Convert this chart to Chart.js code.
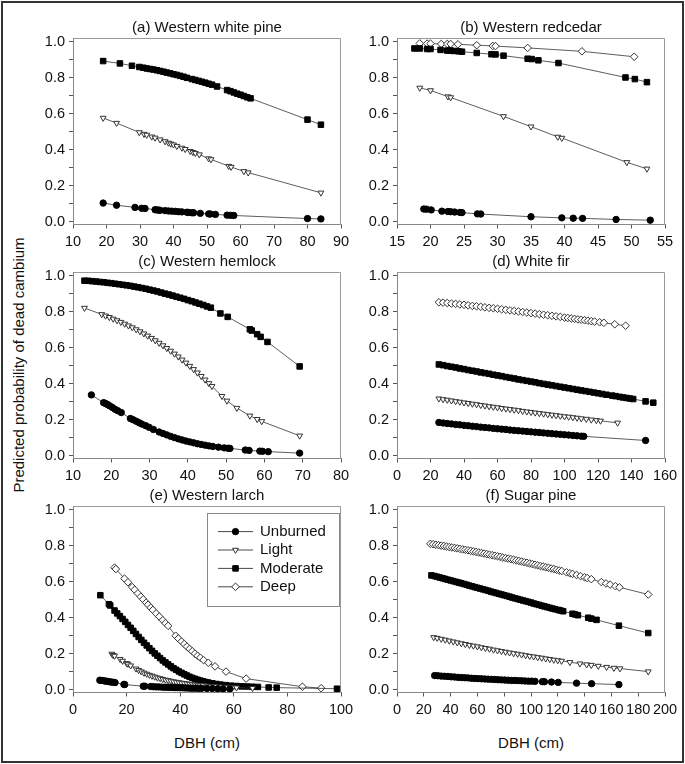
<!DOCTYPE html>
<html><head><meta charset="utf-8">
<script src="https://cdn.jsdelivr.net/npm/chart.js@4/dist/chart.umd.min.js"></script>
<style>
html,body{margin:0;padding:0;background:#fff;width:685px;height:764px;overflow:hidden;position:relative;font-family:"Liberation Sans",Arial,sans-serif;}
#frame{position:absolute;left:1px;top:1px;width:679px;height:758px;border:2px solid #333;}
canvas{position:absolute;}
.lbl{position:absolute;font-size:15px;color:#111;white-space:nowrap;transform:translate(-50%,-50%);}
</style></head><body>
<div id="frame"></div>
<div class="lbl" style="left:18px;top:365px;transform:translate(-50%,-50%) rotate(-90deg);">Predicted probability of dead cambium</div>
<div class="lbl" style="left:207px;top:742px;">DBH (cm)</div>
<div class="lbl" style="left:531px;top:742px;">DBH (cm)</div>
<script>
// ---------- data ----------
const seriesNames = ['Unburned','Light','Moderate','Deep'];
const panelTitles = ['(a) Western white pine','(b) Western redcedar','(c) Western hemlock','(d) White fir','(e) Western larch','(f) Sugar pine'];
const yTickValues = [0,0.1,0.2,0.3,0.4,0.5,0.6,0.7,0.8,0.9,1.0];
const yLabelValues = [0,0.2,0.4,0.6,0.8,1.0];
const aXTicks = [10,20,30,40,50,60,70,80,90];
const bXTicks = [15,20,25,30,35,40,45,50,55];
const cXTicks = [10,20,30,40,50,60,70,80];
const dXTicks = [0,20,40,60,80,100,120,140,160];
const eXTicks = [0,20,40,60,80,100];
const fXTicks = [0,20,40,60,80,100,120,140,160,180,200];

// (a) Western white pine  [DBH, probability]
const aUnburned = [[19,0.104],[23,0.092],[28.5,0.080],[30.5,0.075],[31.5,0.074],[34.5,0.067],[35,0.066],[35.5,0.065],[36,0.064],[37.5,0.062],[38.5,0.060],[39.5,0.059],[40.5,0.058],[41.5,0.056],[42.5,0.055],[44,0.053],[44.5,0.052],[45.5,0.050],[46,0.050],[48,0.047],[50.5,0.044],[51,0.043],[52.5,0.041],[56,0.037],[57,0.036],[58,0.035],[80,0.018],[84,0.016]];
const aLight = [[19,0.576],[23,0.548],[29.8,0.496],[31.2,0.487],[32,0.482],[33.5,0.472],[34.5,0.466],[36,0.456],[37.5,0.446],[38.5,0.438],[39.2,0.433],[40,0.428],[41,0.420],[42.5,0.410],[43.5,0.403],[45,0.392],[45.8,0.386],[46.5,0.381],[47.7,0.373],[50.5,0.351],[51.2,0.346],[56.5,0.309],[57.2,0.304],[61,0.280],[62.3,0.273],[84,0.161]];
const aModerate = [[19,0.892],[24,0.879],[27.6,0.866],[29.8,0.859],[31,0.855],[32,0.851],[33,0.848],[34,0.845],[35,0.841],[36,0.837],[37,0.833],[38,0.828],[39,0.824],[40,0.819],[41,0.815],[42,0.810],[43,0.805],[44,0.799],[45.5,0.792],[46.5,0.787],[47.5,0.782],[48.5,0.777],[49.5,0.772],[50.5,0.766],[51.5,0.761],[53,0.751],[56,0.731],[57,0.725],[58,0.718],[59,0.711],[60,0.705],[61,0.698],[62,0.691],[63,0.685],[80,0.567],[84,0.539]];

// (b) Western redcedar
const bUnburned = [[19,0.071],[19.4,0.070],[20.1,0.066],[21.7,0.059],[22.6,0.057],[23,0.056],[23.6,0.054],[24.4,0.052],[24.7,0.051],[27,0.044],[27.5,0.043],[35,0.028],[39.6,0.022],[41.3,0.020],[42.7,0.019],[47.7,0.013],[52.8,0.009]];
const bLight = [[18.4,0.743],[20,0.729],[22.6,0.695],[23,0.690],[30.9,0.585],[35,0.528],[39,0.471],[39.6,0.465],[49.3,0.330],[52.3,0.294]];
const bModerate = [[17.6,0.962],[18.4,0.962],[19.5,0.959],[20,0.959],[21.5,0.954],[22.5,0.950],[23,0.950],[23.5,0.948],[24.2,0.946],[24.7,0.944],[26.9,0.937],[29.1,0.930],[29.7,0.929],[30.9,0.922],[34.5,0.905],[35.1,0.903],[36.1,0.896],[39.1,0.881],[49.1,0.801],[50.5,0.792],[52.3,0.775]];
const bDeep = [[18.4,0.990],[19.5,0.989],[20,0.989],[21.6,0.987],[22.5,0.987],[23,0.987],[24.1,0.985],[26.9,0.980],[29.3,0.976],[29.7,0.975],[34.5,0.965],[42.6,0.946],[50.4,0.916]];

// (c) Western hemlock
const cUnburned = [[14.8,0.338],[18,0.295],[18.5,0.290],[19,0.285],[19.6,0.277],[20.3,0.268],[21,0.258],[21.7,0.250],[22.6,0.240],[25,0.207],[25.7,0.200],[26.5,0.192],[27.3,0.183],[28,0.176],[29,0.167],[29.9,0.158],[31,0.146],[32.5,0.132],[33.5,0.124],[34.5,0.116],[35.5,0.108],[36.5,0.101],[37.5,0.094],[38.5,0.088],[39.5,0.082],[40.5,0.077],[41.5,0.072],[42.5,0.067],[43.5,0.063],[44.5,0.059],[45.5,0.055],[46.5,0.052],[48,0.048],[49.5,0.044],[50.5,0.042],[51,0.041],[55,0.032],[56,0.030],[58.8,0.026],[59.5,0.025],[61,0.023],[69.2,0.015]];
const cLight = [[13,0.820],[17.5,0.785],[18.5,0.777],[19.5,0.769],[20.5,0.760],[21.5,0.751],[22.5,0.742],[23.5,0.732],[24.5,0.722],[25.5,0.712],[26.5,0.701],[27.5,0.690],[28.5,0.678],[29.5,0.666],[30.5,0.653],[31.5,0.640],[32.5,0.626],[33.5,0.612],[34.5,0.597],[35.5,0.582],[36.5,0.566],[37.5,0.550],[38.5,0.533],[39.5,0.516],[40.5,0.498],[41.5,0.480],[42.5,0.461],[43.5,0.442],[44.5,0.422],[45.5,0.402],[46.3,0.386],[48.9,0.331],[50.2,0.305],[52.8,0.265],[56.2,0.222],[58.1,0.203],[59.3,0.191],[69.2,0.111]];
const cModerate = [[13,0.972],[14,0.971],[15,0.969],[16,0.967],[17,0.965],[18,0.963],[19,0.960],[20,0.958],[21,0.955],[22,0.952],[23,0.949],[24,0.946],[25,0.943],[26,0.939],[27,0.935],[28,0.931],[29,0.927],[30,0.922],[31,0.917],[32,0.912],[33,0.906],[34,0.900],[35,0.895],[36,0.889],[37,0.883],[38,0.877],[39,0.871],[40,0.864],[41,0.858],[42,0.851],[43,0.844],[44,0.837],[45,0.829],[46,0.822],[48.5,0.790],[50.4,0.771],[56.2,0.702],[56.7,0.695],[58.1,0.675],[59,0.660],[60.8,0.632],[69.2,0.496]];

// (d) White fir
const dUnburned = [[25,0.185],[27.5,0.182],[30,0.179],[32.5,0.177],[35,0.174],[37.5,0.172],[40,0.169],[42.5,0.167],[45,0.164],[47.5,0.162],[50,0.159],[52.5,0.157],[55,0.155],[57.5,0.152],[60,0.150],[62.5,0.148],[65,0.146],[67.5,0.143],[70,0.141],[72.5,0.139],[75,0.137],[77.5,0.135],[80,0.133],[82.5,0.131],[85,0.129],[87.5,0.127],[90,0.125],[92.5,0.123],[95,0.121],[97.5,0.119],[100,0.117],[102.5,0.115],[105,0.113],[107.5,0.111],[110,0.109],[111.5,0.108],[148.4,0.085]];
const dLight = [[25,0.317],[27.5,0.313],[30,0.310],[32.5,0.306],[35,0.302],[37.5,0.299],[40,0.295],[42.5,0.292],[45,0.288],[47.5,0.285],[50,0.281],[52.5,0.278],[55,0.274],[57.5,0.271],[60,0.268],[62.5,0.264],[65,0.261],[67.5,0.258],[70,0.255],[72.5,0.252],[75,0.248],[77.5,0.245],[80,0.242],[82.5,0.239],[85,0.236],[87.5,0.233],[90,0.230],[92.5,0.227],[95,0.224],[97.5,0.221],[100,0.218],[102.5,0.216],[105,0.213],[107.5,0.210],[110,0.207],[113,0.204],[116,0.200],[119,0.197],[121.5,0.194],[131.7,0.183]];
const dModerate = [[25,0.507],[27.5,0.503],[30,0.498],[32.5,0.494],[35,0.490],[37.5,0.485],[40,0.481],[42.5,0.476],[45,0.472],[47.5,0.468],[50,0.463],[52.5,0.459],[55,0.455],[57.5,0.450],[60,0.446],[62.5,0.442],[65,0.437],[67.5,0.433],[70,0.429],[72.5,0.424],[75,0.420],[77.5,0.416],[80,0.412],[82.5,0.408],[85,0.403],[87.5,0.399],[90,0.395],[92.5,0.391],[95,0.387],[97.5,0.383],[100,0.379],[102.5,0.375],[105,0.371],[107.5,0.367],[110,0.363],[112.5,0.359],[115,0.355],[117.5,0.351],[120,0.347],[122.5,0.343],[125,0.339],[128.5,0.334],[130.5,0.331],[133,0.327],[135,0.324],[137,0.321],[139,0.318],[141,0.315],[148.4,0.302],[153,0.295]];
const dDeep = [[25,0.852],[27.5,0.850],[30,0.848],[32.5,0.845],[35,0.843],[37.5,0.840],[40,0.838],[42.5,0.835],[45,0.832],[47.5,0.830],[50,0.827],[52.5,0.824],[55,0.821],[57.5,0.819],[60,0.816],[62.5,0.813],[65,0.810],[67.5,0.807],[70,0.804],[72.5,0.801],[75,0.798],[77.5,0.795],[80,0.792],[82.5,0.789],[85,0.786],[87.5,0.783],[90,0.780],[92.5,0.777],[95,0.774],[97.5,0.771],[100,0.767],[102,0.765],[104,0.762],[106,0.760],[108,0.757],[110,0.755],[112,0.752],[114,0.750],[116,0.747],[118,0.745],[121,0.741],[123.5,0.738],[130,0.730],[136.5,0.722]];

// (e) Western larch
const eUnburned = [[10,0.053],[10.8,0.052],[11.5,0.050],[12.2,0.048],[12.8,0.047],[13.5,0.045],[14.2,0.043],[15,0.042],[15.7,0.040],[19,0.030],[19.3,0.029],[26.2,0.020],[26.8,0.020],[29,0.018],[30,0.017],[31,0.016],[32,0.016],[33,0.015],[34,0.014],[35,0.014],[36,0.013],[37,0.013],[38,0.012],[39,0.012],[40,0.011],[41,0.011],[42,0.010],[43,0.010],[44,0.009],[45,0.009],[46,0.009],[47,0.008],[48,0.008],[50,0.007],[52,0.007],[54,0.006],[56,0.005],[58.5,0.005]];
const eLight = [[14.5,0.199],[15,0.192],[15.5,0.188],[17.6,0.170],[18.5,0.160],[20,0.147],[20.5,0.143],[21.5,0.134],[23.5,0.117],[24.5,0.109],[25.5,0.101],[26.5,0.094],[27.5,0.088],[28.5,0.082],[29.5,0.077],[30.5,0.072],[31.5,0.067],[32.5,0.063],[33.5,0.059],[34.5,0.055],[35.5,0.052],[36.5,0.049],[37.5,0.046],[38.5,0.043],[39.5,0.041],[40.5,0.038],[41.5,0.036],[42.5,0.034],[43.5,0.032],[44.5,0.030],[45.5,0.028],[46.5,0.027],[47.5,0.025],[48.5,0.024],[50,0.022],[51.5,0.020],[53,0.019],[55,0.017],[57,0.015],[59.5,0.013],[61,0.012],[67,0.009]];
const eModerate = [[10.2,0.525],[13.4,0.475],[13.9,0.468],[15.5,0.440],[16.5,0.424],[17.5,0.409],[18.5,0.393],[19.5,0.377],[20.5,0.360],[21.5,0.344],[22.5,0.327],[23.5,0.310],[24.5,0.293],[25.5,0.277],[26.5,0.261],[27.5,0.246],[28.5,0.231],[29.5,0.216],[30.5,0.202],[31.5,0.189],[32.5,0.176],[33.5,0.163],[34.5,0.152],[35.5,0.141],[36.5,0.130],[37.5,0.120],[38.5,0.111],[39.5,0.102],[40.5,0.094],[41.5,0.086],[42.5,0.079],[43.5,0.072],[44.5,0.066],[45.5,0.061],[46.5,0.056],[47.5,0.051],[48.5,0.047],[49.5,0.043],[50.5,0.040],[52,0.036],[53.5,0.032],[55,0.029],[57,0.026],[59,0.023],[61,0.021],[63,0.019],[65,0.018],[67,0.017],[69,0.016],[73,0.013],[76,0.012],[98.5,0.006]];
const eDeep = [[15.5,0.678],[16,0.670],[19.2,0.617],[20.5,0.597],[22.1,0.570],[23,0.555],[24.2,0.535],[25.3,0.517],[26.2,0.502],[27.3,0.484],[28,0.472],[29,0.456],[29.8,0.443],[31,0.424],[32.2,0.406],[33.5,0.386],[34.5,0.370],[35.5,0.355],[38.3,0.300],[39.3,0.285],[40.5,0.268],[41.5,0.254],[42.5,0.240],[43.5,0.227],[44.5,0.214],[45.5,0.201],[46.5,0.189],[47.5,0.178],[48.7,0.165],[50.5,0.150],[53,0.130],[57.1,0.101],[64.6,0.062],[85.6,0.017],[92.6,0.009]];

// (f) Sugar pine
const fUnburned = [[28.1,0.079],[30.5,0.078],[33,0.076],[35.5,0.075],[38,0.074],[40.5,0.072],[43,0.071],[45.5,0.069],[48,0.068],[50.5,0.067],[53,0.066],[55.5,0.064],[58,0.063],[60.5,0.062],[63,0.061],[65.5,0.060],[68,0.059],[70.5,0.058],[73,0.057],[75.5,0.056],[78,0.055],[80.5,0.054],[83,0.053],[85.5,0.052],[88,0.052],[90.5,0.051],[93,0.050],[95.5,0.049],[98,0.048],[100.5,0.048],[103,0.047],[108.5,0.045],[110,0.045],[115.3,0.043],[120.3,0.041],[134,0.037],[145.2,0.034],[165.6,0.029]];
const fLight = [[27.4,0.291],[30,0.287],[33,0.282],[36,0.277],[39,0.272],[42,0.267],[45,0.262],[48,0.257],[51,0.253],[54,0.248],[57,0.244],[60,0.240],[63,0.235],[66,0.231],[69,0.227],[72,0.222],[75,0.218],[78,0.214],[81,0.210],[84,0.206],[87,0.202],[90,0.199],[93,0.195],[96,0.191],[99,0.187],[102,0.184],[105,0.180],[108,0.177],[111,0.173],[114,0.170],[117,0.166],[120,0.163],[122.8,0.160],[129,0.153],[136.5,0.145],[141.5,0.140],[145,0.137],[150.2,0.132],[156.4,0.126],[161.9,0.121],[166.4,0.118],[187.5,0.101]];
const fModerate = [[25.7,0.635],[28,0.631],[30,0.627],[32,0.623],[34,0.619],[36,0.615],[38,0.611],[40,0.607],[42,0.603],[44,0.599],[46,0.595],[48,0.591],[50,0.587],[52,0.583],[54,0.578],[56,0.574],[58,0.570],[60,0.566],[62,0.562],[64,0.558],[66,0.554],[68,0.550],[70,0.545],[72,0.541],[74,0.537],[76,0.533],[78,0.529],[80,0.525],[82,0.521],[84,0.517],[86,0.512],[88,0.508],[90,0.504],[92,0.500],[94,0.496],[96,0.492],[98,0.488],[100,0.484],[102,0.479],[104,0.475],[106,0.471],[108,0.467],[110,0.463],[112,0.459],[114,0.455],[116,0.451],[118,0.447],[120.4,0.443],[122,0.440],[124,0.436],[131,0.422],[133,0.418],[135,0.414],[142.7,0.400],[145,0.395],[148.9,0.388],[165.6,0.356],[187.5,0.315]];
const fDeep = [[24.9,0.810],[27,0.808],[29,0.805],[31,0.803],[33,0.800],[35,0.798],[37,0.795],[39,0.792],[41,0.790],[43,0.787],[45,0.785],[47,0.782],[49,0.779],[51,0.777],[53,0.774],[55,0.771],[57,0.768],[59,0.765],[61,0.762],[63,0.759],[65,0.756],[67,0.753],[69,0.750],[71,0.747],[73,0.744],[75,0.741],[77,0.738],[79,0.734],[81,0.731],[83,0.728],[85,0.725],[87,0.722],[89,0.718],[91,0.715],[93,0.712],[95,0.708],[97,0.705],[99,0.701],[101,0.698],[103,0.694],[105,0.691],[107,0.687],[109,0.684],[111,0.680],[113,0.677],[115,0.673],[117,0.670],[119,0.666],[121,0.662],[123,0.659],[126.5,0.652],[129,0.647],[131,0.643],[134,0.637],[137,0.631],[140,0.624],[142,0.620],[145,0.614],[152.5,0.598],[156,0.590],[159,0.584],[163,0.575],[166,0.569],[187.5,0.529]];

// ---------- styling / layout ----------
const FONT = '"Liberation Sans", Arial, sans-serif';
Chart.defaults.font.family = FONT;
Chart.defaults.color = '#111';

const markerStyles = [
  {pointStyle:'circle', radius:3.2, rotation:0, fill:'#000', stroke:'#000'},
  {pointStyle:'triangle', radius:3.4, rotation:180, fill:'#fff', stroke:'#333'},
  {pointStyle:'rect', radius:3.9, rotation:0, fill:'#000', stroke:'#000'},
  {pointStyle:'rectRot', radius:3.8, rotation:0, fill:'#fff', stroke:'#333'}
];

const panels = [
  {title:panelTitles[0], series:[aUnburned,aLight,aModerate,null], xt:aXTicks, col:0, row:0},
  {title:panelTitles[1], series:[bUnburned,bLight,bModerate,bDeep], xt:bXTicks, col:1, row:0},
  {title:panelTitles[2], series:[cUnburned,cLight,cModerate,null], xt:cXTicks, col:0, row:1},
  {title:panelTitles[3], series:[dUnburned,dLight,dModerate,dDeep], xt:dXTicks, col:1, row:1},
  {title:panelTitles[4], series:[eUnburned,eLight,eModerate,eDeep], xt:eXTicks, col:0, row:2, legend:true},
  {title:panelTitles[5], series:[fUnburned,fLight,fModerate,fDeep], xt:fXTicks, col:1, row:2}
];
const colLeft = [28, 352];
const rowTop = [18, 252, 486];
const CW = 358, CH = 237, YW = 45, XH = 30.5, TOPPAD = 20;

const framePlugin = {
  id:'plotFrame',
  beforeDatasetsDraw(chart){
    const a = chart.chartArea, ctx = chart.ctx;
    ctx.save();
    ctx.strokeStyle = '#9a9a9a'; ctx.lineWidth = 1;
    ctx.beginPath();
    ctx.moveTo(Math.round(a.left)+0.5, Math.round(a.top)+0.5);
    ctx.lineTo(Math.round(a.right)-0.5, Math.round(a.top)+0.5);
    ctx.lineTo(Math.round(a.right)-0.5, Math.round(a.bottom));
    ctx.stroke();
    ctx.restore();
  }
};

const panelTitlePlugin = {
  id:'panelTitle',
  afterDraw(chart, args, opts){
    const a = chart.chartArea, ctx = chart.ctx;
    ctx.save();
    ctx.fillStyle = '#111'; ctx.font = '15px ' + FONT;
    ctx.textAlign = 'center'; ctx.textBaseline = 'middle';
    ctx.fillText(opts.text, (a.left + a.right) / 2, a.top - 10.5);
    ctx.restore();
  }
};

function drawMarker(ctx, st, x, y){
  ctx.save();
  ctx.fillStyle = st.fill; ctx.strokeStyle = st.stroke; ctx.lineWidth = 1;
  ctx.beginPath();
  const r = st.radius;
  if (st.pointStyle === 'circle') { ctx.arc(x, y, r, 0, Math.PI*2); }
  else if (st.pointStyle === 'rect') { const s = r*Math.SQRT1_2; ctx.rect(x-s, y-s, 2*s, 2*s); }
  else if (st.pointStyle === 'triangle') {
    for (let k=0;k<3;k++){ const ang = Math.PI + k*2*Math.PI/3; const px = x + Math.sin(ang)*r, py = y - Math.cos(ang)*r; k?ctx.lineTo(px,py):ctx.moveTo(px,py);} ctx.closePath();
  } else { ctx.moveTo(x-r,y); ctx.lineTo(x,y-r); ctx.lineTo(x+r,y); ctx.lineTo(x,y+r); ctx.closePath(); }
  ctx.fill(); ctx.stroke();
  ctx.restore();
}

const legendPlugin = {
  id:'boxLegend',
  afterDraw(chart){
    const a = chart.chartArea, ctx = chart.ctx;
    const x0 = a.left + 134, y0 = a.top + 6.6, w = 132, h = 93;
    ctx.save();
    ctx.fillStyle = '#fff'; ctx.fillRect(x0, y0, w, h);
    ctx.strokeStyle = '#888'; ctx.lineWidth = 1;
    ctx.strokeRect(Math.round(x0)+0.5, Math.round(y0)+0.5, w, h);
    seriesNames.forEach((name, i) => {
      const y = a.top + 25.6 + i*18.4;
      ctx.strokeStyle = '#333'; ctx.lineWidth = 0.9;
      ctx.beginPath(); ctx.moveTo(a.left+145, y); ctx.lineTo(a.left+180, y); ctx.stroke();
      drawMarker(ctx, markerStyles[i], a.left+162.5, y);
      ctx.fillStyle = '#111'; ctx.font = '15px ' + FONT; ctx.textAlign = 'left'; ctx.textBaseline = 'middle';
      ctx.fillText(name, a.left+187, y);
    });
    ctx.restore();
  }
};

panels.forEach(p => {
  const cv = document.createElement('canvas');
  cv.width = CW; cv.height = CH;
  cv.style.left = colLeft[p.col] + 'px';
  cv.style.top = rowTop[p.row] + 'px';
  cv.style.width = CW + 'px'; cv.style.height = CH + 'px';
  document.body.appendChild(cv);

  const datasets = [];
  p.series.forEach((arr, i) => {
    if (!arr) return;
    const st = markerStyles[i];
    datasets.push({
      label: seriesNames[i],
      data: arr.map(([x, y]) => ({x, y})),
      showLine: true,
      borderColor: '#333',
      borderWidth: 0.8,
      pointStyle: st.pointStyle,
      pointRadius: st.radius,
      pointRotation: st.rotation,
      pointBackgroundColor: st.fill,
      pointBorderColor: st.stroke,
      pointBorderWidth: 1,
      pointHoverRadius: st.radius,
      tension: 0
    });
  });

  const xt = p.xt;
  new Chart(cv, {
    type: 'scatter',
    data: {datasets},
    options: {
      responsive: false,
      animation: false,
      devicePixelRatio: 1,
      layout: {padding: {left: 0, right: CW - YW - 268, top: TOPPAD, bottom: 0}},
      plugins: {
        legend: {display: false},
        tooltip: {enabled: false},
        title: {display: false},
        panelTitle: {text: p.title}
      },
      scales: {
        x: {
          type: 'linear', min: xt[0], max: xt[xt.length-1],
          afterBuildTicks: s => { s.ticks = xt.map(v => ({value: v})); },
          afterFit: s => { s.height = XH; },
          ticks: {font: {size: 14.5, family: FONT}, color: '#111', padding: 5, maxRotation: 0, autoSkip: false, callback: v => String(v)},
          grid: {drawOnChartArea: false, drawTicks: true, tickLength: 4, tickColor: '#555'},
          border: {display: true, color: '#888'}
        },
        y: {
          type: 'linear', min: -0.015, max: 1.02,
          afterBuildTicks: s => { s.ticks = yTickValues.map(v => ({value: v})); },
          afterFit: s => { s.width = YW; },
          ticks: {font: {size: 14.5, family: FONT}, color: '#111', padding: 4, autoSkip: false,
                  callback: v => yLabelValues.some(l => Math.abs(l - v) < 1e-6) ? v.toFixed(1) : ''},
          grid: {drawOnChartArea: false, drawTicks: true, tickLength: 4, tickColor: '#555'},
          border: {display: true, color: '#888'}
        }
      }
    },
    plugins: p.legend ? [framePlugin, panelTitlePlugin, legendPlugin] : [framePlugin, panelTitlePlugin]
  });
});
</script>
</body></html>
